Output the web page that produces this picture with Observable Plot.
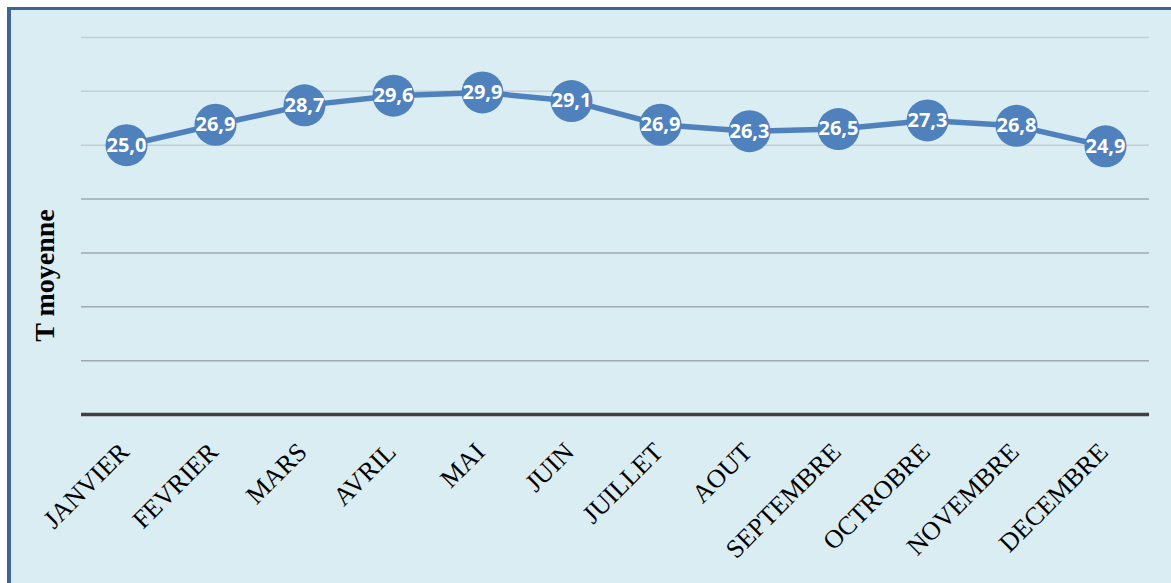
<!DOCTYPE html>
<html><head><meta charset="utf-8">
<script src="https://cdn.jsdelivr.net/npm/d3@7"></script>
<script src="https://cdn.jsdelivr.net/npm/@observablehq/plot@0.6"></script>
<style>
html,body{margin:0;padding:0;background:#fff;}
#wrap{position:relative;width:1171px;height:583px;overflow:hidden;}
#frame{position:absolute;left:7px;top:7px;right:0;bottom:0;background:#daedf3;border-left:4px solid #3d6596;border-top:3px solid #3d6596;}
#chart{position:absolute;left:0;top:0;}
g[aria-label="y-title"] text{letter-spacing:1.5px;}
</style></head><body>
<div id="wrap"><div id="frame"></div><div id="chart"></div></div>
<script>
const months = ["JANVIER","FEVRIER","MARS","AVRIL","MAI","JUIN","JUILLET","AOUT","SEPTEMBRE","OCTROBRE","NOVEMBRE","DECEMBRE"];
const tmoy = [25.0, 26.9, 28.7, 29.6, 29.9, 29.1, 26.9, 26.3, 26.5, 27.3, 26.8, 24.9];
const upperGrid = [25, 30, 35];
const lowerGrid = [5, 10, 15, 20];
const yLabel = "T moyenne";

const data = months.map((m, i) => ({month: m, t: tmoy[i]}));
const fr = d3.formatLocale({decimal: ",", thousands: " ", grouping: [3], currency: ["", "€"]});
const fmt = fr.format(".1f");

const plot = Plot.plot({
  width: 1171, height: 583,
  marginLeft: 81, marginRight: 22, marginTop: 37, marginBottom: 169,
  style: {background: "transparent", overflow: "visible"},
  x: {type: "point", domain: months, padding: 0.5, axis: null},
  y: {domain: [0, 35], axis: null},
  marks: [
    Plot.ruleY(upperGrid, {stroke: "#c3cdd2", strokeWidth: 1.5}),
    Plot.ruleY(lowerGrid, {stroke: "#9eaab0", strokeWidth: 1.5}),
    Plot.ruleY([0], {stroke: "#404040", strokeWidth: 3.5}),
    Plot.line(data, {x: "month", y: "t", stroke: "#4f81bd", strokeWidth: 5.5}),
    Plot.dot(data, {x: "month", y: "t", r: 21, fill: "#4f81bd"}),
    Plot.text(data, {x: "month", y: "t", text: d => fmt(d.t), fill: "white", fontWeight: "bold", fontSize: 20, fontFamily: "Open Sans"}),
    Plot.text(months, {x: d => d, frameAnchor: "bottom", text: d => d, rotate: -45, textAnchor: "end", lineAnchor: "bottom", dx: 4, dy: 39, fontSize: 26, fontFamily: "Liberation Serif", fill: "black"}),
    Plot.text([yLabel], {ariaLabel: "y-title", frameAnchor: "top-left", text: d => d, rotate: -90, textAnchor: "middle", dx: -36, dy: 238, fontSize: 28, fontWeight: "bold", fontFamily: "Liberation Serif", fill: "black", lineAnchor: "middle"})
  ]
});
document.getElementById("chart").appendChild(plot);
</script>
</body></html>
